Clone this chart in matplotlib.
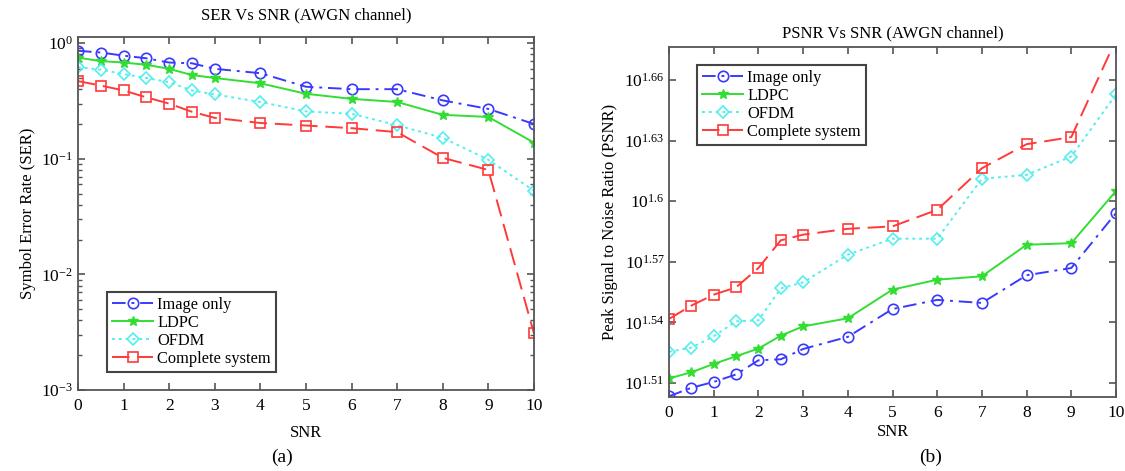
import numpy as np
import matplotlib
matplotlib.use("Agg")
from matplotlib import pyplot as plt
from matplotlib.ticker import FixedLocator, FixedFormatter, NullLocator

plt.rcParams['font.family'] = ['Liberation Serif', 'DejaVu Serif']
plt.rcParams['mathtext.fontset'] = 'custom'
plt.rcParams['mathtext.rm'] = 'Liberation Serif'
plt.rcParams['mathtext.it'] = 'Liberation Serif:italic'
plt.rcParams['mathtext.default'] = 'regular'

# SNR points (both panels)
snr = [0, 0.5, 1, 1.5, 2, 2.5, 3, 4, 5, 6, 7, 8, 9, 10]
labels = ['Image only', 'LDPC', 'OFDM', 'Complete system']

# (a) symbol error rate
ser_image = [0.86, 0.83, 0.78, 0.74, 0.68, 0.67, 0.60, 0.55, 0.42, 0.40, 0.40, 0.32, 0.27, 0.20]
ser_ldpc = [0.75, 0.70, 0.68, 0.65, 0.60, 0.53, 0.50, 0.45, 0.365, 0.33, 0.31, 0.24, 0.23, 0.138]
ser_ofdm = [0.62, 0.59, 0.54, 0.50, 0.46, 0.39, 0.36, 0.31, 0.257, 0.245, 0.195, 0.152, 0.098, 0.053]
ser_full = [0.47, 0.43, 0.39, 0.34, 0.30, 0.255, 0.226, 0.204, 0.194, 0.184, 0.17, 0.102, 0.080, 0.0031]

# (b) PSNR, read as exponents of 10 on the log axis
psnr_image = [1.5034, 1.5076, 1.5105, 1.5142, 1.5212, 1.5217, 1.5268, 1.5328, 1.5466, 1.5511, 1.5496, 1.5633, 1.5669, 1.5941]
psnr_ldpc = [1.5122, 1.5153, 1.5194, 1.5232, 1.5270, 1.5334, 1.5380, 1.5420, 1.5562, 1.5611, 1.5628, 1.5784, 1.5792, 1.6050]
psnr_ofdm = [1.5254, 1.5275, 1.5331, 1.5405, 1.5410, 1.5568, 1.5598, 1.5735, 1.5814, 1.5814, 1.6111, 1.6130, 1.6221, 1.6529]
psnr_full = [1.5417, 1.5483, 1.5537, 1.5573, 1.5669, 1.5806, 1.5834, 1.5863, 1.5875, 1.5957, 1.6163, 1.6282, 1.6317, 1.6800]
psnr_ticks = [1.51, 1.54, 1.57, 1.60, 1.63, 1.66]
psnr_tick_labels = ['1.51', '1.54', '1.57', '1.6', '1.63', '1.66']

styles = [
    dict(color='#3a3aff', ls=(0, (7, 3, 1.5, 3)), marker='o', mfc='none', ms=7.5, mew=1.2),
    dict(color='#33dd33', ls='-', marker='*', mfc='#33dd33', ms=7.5, mew=1.0),
    dict(color='#55eeee', ls=(0, (1.5, 2)), marker='D', mfc='none', ms=6.5, mew=1.2),
    dict(color='#ff3a3a', ls=(0, (9, 4)), marker='s', mfc='none', ms=7.5, mew=1.2),
]


def style_axes(ax):
    for s in ax.spines.values():
        s.set_color('#555555')
        s.set_linewidth(1.3)
    ax.tick_params(which='both', direction='in', top=True, right=True,
                   colors='#555555', labelcolor='black', labelsize=12.5)
    ax.tick_params(which='major', length=5, width=1.2)
    ax.tick_params(which='minor', length=3, width=1.0)
    ax.tick_params(axis='x', pad=6)
    ax.set_xlim(0, 10)
    ax.set_xticks(range(11))


def add_legend(ax, loc, anchor):
    leg = ax.legend(loc=loc, bbox_to_anchor=anchor, fancybox=False,
                    edgecolor='#444444', framealpha=1, fontsize=11.8,
                    handlelength=2.5, handletextpad=0.25, labelspacing=0.12,
                    borderpad=0.3, borderaxespad=0)
    leg.get_frame().set_linewidth(1.5)


fig = plt.figure(figsize=(11.25, 4.71), dpi=100)

# left panel
ax1 = fig.add_axes([0.0693, 0.172, 0.4053, 0.7484])
for ys, lab, st in zip([ser_image, ser_ldpc, ser_ofdm, ser_full], labels, styles):
    ax1.semilogy(snr, ys, label=lab, lw=1.4, **st)
ax1.set_ylim(1e-3, 1.12)
style_axes(ax1)
ax1.set_title('SER Vs SNR (AWGN channel)', fontsize=12, pad=13)
ax1.set_xlabel('SNR', fontsize=12, labelpad=8)
ax1.set_ylabel('Symbol Error Rate (SER)', fontsize=12, labelpad=4)
add_legend(ax1, 'lower left', (0.064, 0.051))

# right panel
ax2 = fig.add_axes([0.5947, 0.157, 0.3973, 0.744])
for ys, lab, st in zip([psnr_image, psnr_ldpc, psnr_ofdm, psnr_full], labels, styles):
    ax2.semilogy(snr, 10 ** np.array(ys), label=lab, lw=1.4, **st)
ax2.set_ylim(10 ** 1.503, 10 ** 1.6765)
style_axes(ax2)
ax2.yaxis.set_major_locator(FixedLocator([10 ** t for t in psnr_ticks]))
ax2.yaxis.set_major_formatter(FixedFormatter([r'$10^{%s}$' % t for t in psnr_tick_labels]))
ax2.yaxis.set_minor_locator(NullLocator())
ax2.set_title('PSNR Vs SNR (AWGN channel)', fontsize=12, pad=7)
ax2.set_xlabel('SNR', fontsize=12, labelpad=2)
ax2.set_ylabel('Peak Signal to Noise Ratio (PSNR)', fontsize=12, labelpad=4)
add_legend(ax2, 'upper left', (0.063, 0.947))

fig.text(282 / 1125, 1 - 457 / 471, '(a)', ha='center', va='center', fontsize=14)
fig.text(931 / 1125, 1 - 457 / 471, '(b)', ha='center', va='center', fontsize=14)

fig.savefig('out.png', dpi=100)
